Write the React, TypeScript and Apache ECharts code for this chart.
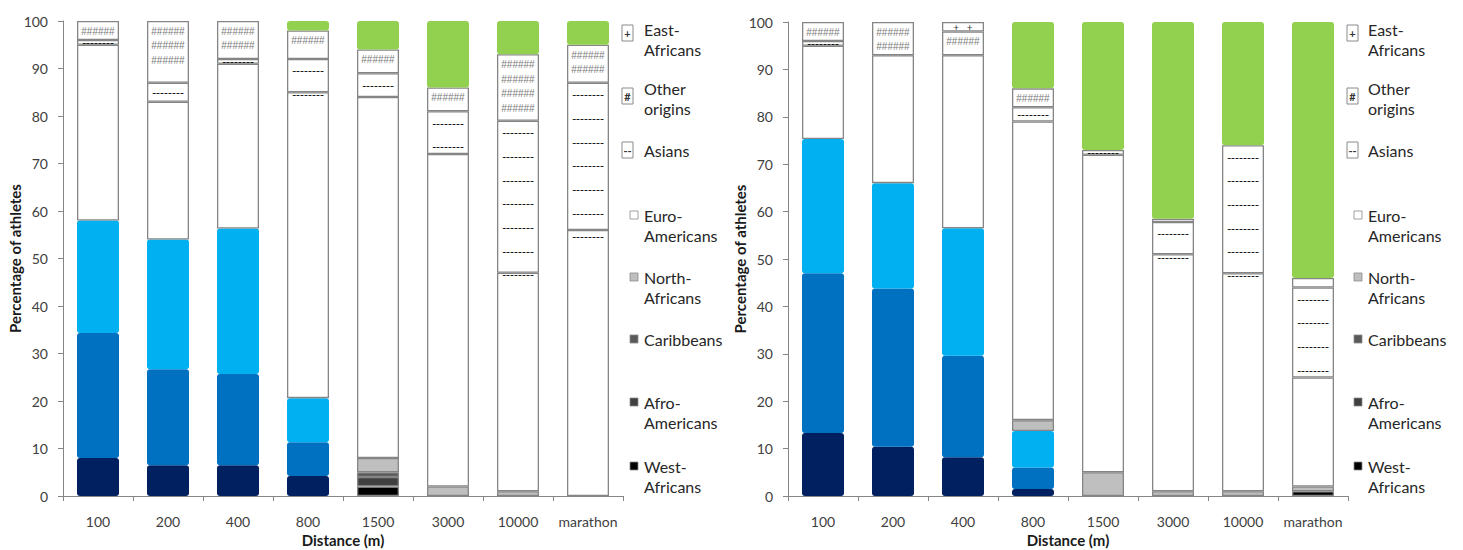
import React, { useEffect, useRef } from 'react';
import * as echarts from 'echarts';

// ---- data ----
const categories = ['100', '200', '400', '800', '1500', '3000', '10000', 'marathon'];
const seriesNames = ['West-Africans', 'Afro-Americans', 'Caribbeans', 'North-Africans', 'Euro-Americans', 'Asians', 'Other origins', 'East-Africans'];
const legendLabels = ['East-\nAfricans', 'Other\norigins', 'Asians', 'Euro-\nAmericans', 'North-\nAfricans', 'Caribbeans', 'Afro-\nAmericans', 'West-\nAfricans'];
const yTitle = 'Percentage of athletes';
const xTitle = 'Distance (m)';

// left panel (segment sizes, %)
const westA = [8, 6.5, 6.5, 4.2, 2, 0, 0, 0];
const afroA = [26.3, 20.2, 19.2, 7.1, 2, 0, 0, 0];
const caribA = [23.7, 27.3, 30.6, 9.3, 1, 0, 0, 0];
const northA = [0, 0, 0, 0, 3, 2, 1, 0];
const euroA = [37, 29, 34.7, 64.4, 76, 70, 46, 56];
const asianA = [1, 4, 1, 7, 5, 9, 32, 31];
const otherA = [4, 13, 8, 6, 5, 5, 14, 8];
const eastA = [0, 0, 0, 2, 6, 14, 7, 5];

// right panel (segment sizes, %)
const westB = [13.3, 10.4, 8.2, 1.5, 0, 0, 0, 1];
const afroB = [33.7, 33.4, 21.4, 4.5, 0, 0, 0, 0];
const caribB = [28.3, 22.2, 26.9, 7.7, 0, 0, 0, 0];
const northB = [0, 0, 0, 2.3, 5, 1, 1, 1];
const euroB = [19.7, 27, 36.5, 63, 67, 50, 46, 23];
const asianB = [1, 0, 0, 3, 1, 6.8, 27, 19];
const otherB = [4, 7, 5, 4, 0, 0.7, 0, 2];
const eastB = [0, 0, 2, 14, 27, 41.5, 26, 54];

// which bars were recoloured in the figure
const blueA = [true, true, true, true, false, false, false, false];
const blueB = [true, true, true, true, false, false, false, false];
const greenA = [true, true, true, true, true, true, true, true];
const greenB = [true, true, false, true, true, true, true, true];

// ---- styles ----
const FONT = 'Lato';
const greyscale = ['#000000', '#404040', '#5a5a5a', '#BFBFBF', '#FFFFFF', '#FFFFFF', '#FFFFFF', '#FFFFFF'];
const highlight = ['#002060', '#0070C0', '#00B0F0', null, null, null, null, '#92D050'];
const BORDER = '#858585';
const PX_PER_UNIT = 4.75;

const panels = [
  { series: [westA, afroA, caribA, northA, euroA, asianA, otherA, eastA], blue: blueA, green: greenA },
  { series: [westB, afroB, caribB, northB, euroB, asianB, otherB, eastB], blue: blueB, green: greenB },
];

function buildItem(s: number, i: number, v: number, blue: boolean[], green: boolean[]) {
  if (!v) return { value: '-' };
  const coloured = (s <= 2 && blue[i]) || (s === 7 && green[i]);
  const item: any = {
    value: v,
    itemStyle: coloured
      ? { color: highlight[s], borderWidth: 0, borderRadius: 3 }
      : { color: greyscale[s], borderColor: BORDER, borderWidth: 1.3 },
  };
  const h = v * PX_PER_UNIT;
  if (s === 5) {
    const rows = Math.max(1, Math.ceil(v / 5));
    item.label = {
      show: true,
      position: 'insideTop',
      distance: 0,
      formatter: Array(rows).fill('--------').join('\n'),
      fontSize: 11,
      fontFamily: 'DejaVu Sans',
      color: '#000',
      textBorderWidth: 0,
      lineHeight: Math.min(23.7, h),
    };
  } else if (s === 6) {
    const rows = Math.floor(v / 3.3);
    if (rows > 0) {
      item.label = {
        show: true,
        position: 'insideTop',
        distance: 3,
        formatter: Array(rows).fill('######').join('\n'),
        fontSize: 10,
        fontFamily: 'Liberation Sans',
        color: '#7a7a7a',
        textBorderWidth: 0,
        lineHeight: 14.5,
      };
    }
  } else if (s === 7 && !coloured) {
    item.label = { show: true, position: 'inside', formatter: '+   +', fontSize: 10, color: '#333', textBorderWidth: 0 };
  }
  return item;
}

function legendGraphics(boxX: number, sqX: number, textX: number) {
  const centers = [29, 88, 150, 215, 277, 339, 402, 466];
  const boxCenters = [33, 96, 150];
  const boxGlyph = ['+', '#', '--'];
  const sqColors = ['#FFFFFF', '#BFBFBF', '#5a5a5a', '#404040', '#000000'];
  const els: any[] = [];
  legendLabels.forEach((lab, k) => {
    els.push({
      type: 'text',
      x: textX,
      y: centers[k] - 10,
      style: { text: lab, font: `16px ${FONT}`, fill: '#262626', lineHeight: 20, verticalAlign: 'top' },
    });
    if (k < 3) {
      els.push({
        type: 'rect',
        shape: { x: boxX, y: boxCenters[k] - 8, width: 11, height: 16 },
        style: { fill: '#fff', stroke: '#8a8a8a', lineWidth: 1 },
      });
      els.push({
        type: 'text',
        x: boxX + 5.5,
        y: boxCenters[k],
        style: { text: boxGlyph[k], font: `bold 11px ${FONT}`, fill: '#333', align: 'center', verticalAlign: 'middle' },
      });
    } else {
      els.push({
        type: 'rect',
        shape: { x: sqX, y: centers[k] - 4, width: 8, height: 8 },
        style: { fill: sqColors[k - 3], stroke: '#8a8a8a', lineWidth: 0.8 },
      });
    }
  });
  return els;
}

function buildOption(): any {
  const axisColor = '#868686';
  const grids = [
    { left: 63, right: 840, top: 21, bottom: 54, containLabel: false, outerBoundsMode: 'none' },
    { left: 788, right: 115, top: 22, bottom: 54, containLabel: false, outerBoundsMode: 'none' },
  ];
  const xAxis = grids.map((_, p) => ({
    type: 'category',
    gridIndex: p,
    data: categories,
    axisLine: { lineStyle: { color: axisColor, width: 1 } },
    axisTick: { show: true, length: 5, lineStyle: { color: axisColor } },
    axisLabel: { color: '#404040', fontSize: 14, fontFamily: FONT, margin: 18, interval: 0, overflow: 'none', width: 90 },
    name: xTitle,
    nameLocation: 'middle',
    nameGap: 36,
    nameMoveOverlap: false,
    nameTextStyle: { fontWeight: 'bold', fontSize: 15, fontFamily: FONT, color: '#1a1a1a' },
  }));
  const yAxis = grids.map((_, p) => ({
    type: 'value',
    gridIndex: p,
    min: 0,
    max: 100,
    interval: 10,
    axisLine: { show: true, lineStyle: { color: axisColor, width: 1 } },
    axisTick: { show: true, length: 5, lineStyle: { color: axisColor } },
    splitLine: { show: false },
    axisLabel: { color: '#404040', fontSize: 14, fontFamily: FONT, margin: 15 },
    name: yTitle,
    nameLocation: 'middle',
    nameGap: 41,
    nameMoveOverlap: false,
    nameTextStyle: { fontWeight: 'bold', fontSize: 15, fontFamily: FONT, color: '#1a1a1a' },
  }));
  const series: any[] = [];
  panels.forEach((panel, p) => {
    panel.series.forEach((vals, s) => {
      series.push({
        type: 'bar',
        name: seriesNames[s],
        stack: 'panel' + p,
        xAxisIndex: p,
        yAxisIndex: p,
        barCategoryGap: '40%',
        data: vals.map((v, i) => buildItem(s, i, v, panel.blue, panel.green)),
      });
    });
  });
  return {
    animation: false,
    textStyle: { fontFamily: FONT },
    grid: grids,
    xAxis,
    yAxis,
    series,
    graphic: [...legendGraphics(622, 630, 644), ...legendGraphics(1347, 1354, 1368)],
  };
}

export default function App() {
  const ref = useRef<HTMLDivElement>(null);
  useEffect(() => {
    const chart = echarts.init(ref.current as HTMLDivElement, null, { renderer: 'svg' });
    chart.setOption(buildOption());
    return () => chart.dispose();
  }, []);
  return <div ref={ref} style={{ position: 'absolute', left: 0, top: 0, width: 1463, height: 550, background: '#fff' }} />;
}
